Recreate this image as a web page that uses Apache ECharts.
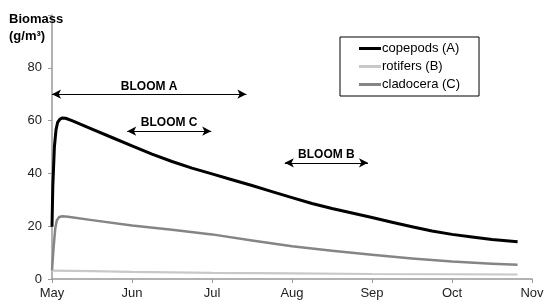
<!DOCTYPE html>
<html><head><meta charset="utf-8">
<script src="https://cdn.jsdelivr.net/npm/echarts@6/dist/echarts.min.js"></script>
<style>html,body{margin:0;padding:0;background:#fff}#c{width:550px;height:307px}</style>
</head><body><div id="c"></div>
<script>
// x in months after May 1
const monthLabels = ['May','Jun','Jul','Aug','Sep','Oct','Nov'];
const yTicks = [0,20,40,60,80];
const copepodsX = [0,0.01,0.03,0.05,0.07,0.1,0.13,0.17,0.25,0.5,0.75,1.0,1.25,1.5,1.75,2.0,2.25,2.5,2.75,3.0,3.25,3.5,3.75,4.0,4.25,4.5,4.75,5.0,5.25,5.5,5.82];
const copepodsY = [19.8,35,50,56.5,59.3,60.6,61.0,60.9,60.0,56.8,53.6,50.4,47.3,44.5,42.0,39.8,37.6,35.4,33.1,30.8,28.6,26.7,25.0,23.3,21.5,19.8,18.2,16.9,15.9,15.0,14.1];
const cladoceraX = [0,0.02,0.04,0.06,0.09,0.13,0.2,0.5,1.0,1.5,2.0,2.5,3.0,3.5,4.0,4.5,5.0,5.5,5.82];
const cladoceraY = [3.3,12,19,22.2,23.5,23.8,23.6,22.3,20.3,18.7,16.9,14.6,12.4,10.7,9.2,7.8,6.6,5.8,5.4];
const rotifersX = [0,0.5,1,2,3,4,5,5.82];
const rotifersY = [3.2,3.0,2.7,2.3,2.1,1.9,1.8,1.7];
const blooms = [
  {name:'BLOOM A', from:0, to:2.43, level:70},
  {name:'BLOOM C', from:0.94, to:1.99, level:56},
  {name:'BLOOM B', from:2.91, to:3.95, level:44}
];
const zip = (xs, ys) => xs.map((x,i)=>[x, ys[i]]);
const font = 'Liberation Sans, Arial, sans-serif';
const lineIcon = 'path://M0,0 L22,0 L22,3 L0,3 Z';
const chart = echarts.init(document.getElementById('c'), null, {renderer:'canvas'});
chart.setOption({
  animation:false,
  textStyle:{fontFamily:font},
  title:{text:'Biomass\n(g/m³)', left:4, top:6, textStyle:{fontFamily:font,fontSize:13,fontWeight:'bold',color:'#000',lineHeight:17}},
  legend:{
    orient:'vertical', left:340, top:37,
    borderColor:'#000', borderWidth:1, padding:[5,19,5,19],
    itemWidth:22, itemHeight:3, itemGap:5,
    textStyle:{fontFamily:font,fontSize:13,color:'#000',padding:[0,0,0,-4]},
    data:[{name:'copepods (A)',icon:lineIcon},{name:'rotifers (B)',icon:lineIcon},{name:'cladocera (C)',icon:lineIcon}]
  },
  grid:{left:52, right:18, top:15, bottom:28, containLabel:false},
  xAxis:{type:'value', min:0, max:6, interval:1,
    axisLine:{lineStyle:{color:'#999',width:1.5}},
    axisTick:{show:true, length:4, lineStyle:{color:'#999'}},
    splitLine:{show:false},
    axisLabel:{color:'#222', fontSize:13, fontFamily:font, margin:8, formatter:v=>monthLabels[Math.round(v)]||''}},
  yAxis:{type:'value', min:0, max:100, interval:20,
    axisLine:{show:true, lineStyle:{color:'#999',width:1.5}},
    axisTick:{show:true, length:4, lineStyle:{color:'#999'}},
    splitLine:{show:false},
    axisLabel:{color:'#222', fontSize:13, fontFamily:font, margin:10, formatter:v=>yTicks.includes(v)?String(v):''}},
  series:[
    {name:'copepods (A)', type:'line', data:zip(copepodsX,copepodsY), symbol:'none', smooth:false,
     lineStyle:{color:'#000',width:3,join:'round'}, itemStyle:{color:'#000'}, z:5,
     markLine:{silent:true, symbol:['arrow','arrow'], symbolSize:[7,9],
       lineStyle:{color:'#000',width:1.2,type:'solid'},
       label:{show:true, position:'insideMiddleTop', formatter:p=>p.name, color:'#000', fontSize:12, fontWeight:'bold', fontFamily:font, distance:2},
       data: blooms.map(b=>[{name:b.name, coord:[b.from,b.level]},{coord:[b.to,b.level]}])}},
    {name:'rotifers (B)', type:'line', data:zip(rotifersX,rotifersY), symbol:'none', smooth:false,
     lineStyle:{color:'#c8c8c8',width:2.2}, itemStyle:{color:'#c8c8c8'}, z:3},
    {name:'cladocera (C)', type:'line', data:zip(cladoceraX,cladoceraY), symbol:'none', smooth:false,
     lineStyle:{color:'#858585',width:2.5,join:'round'}, itemStyle:{color:'#858585'}, z:4}
  ]
});
</script></body></html>
